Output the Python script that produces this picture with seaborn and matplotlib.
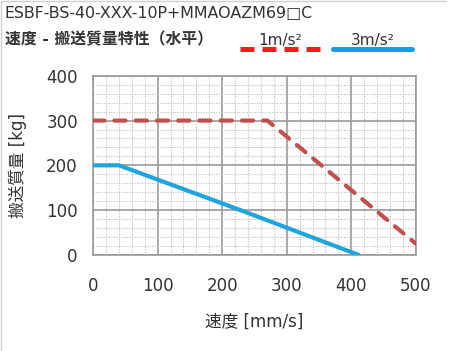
import numpy as np
import pandas as pd
import matplotlib
matplotlib.use("Agg")
import matplotlib.pyplot as plt
from matplotlib.lines import Line2D
from matplotlib.ticker import MultipleLocator
import seaborn as sns

# データ
speed_1g = [0, 270, 500]
mass_1g = [300, 300, 25]
speed_3g = [0, 40, 228, 411]
mass_3g = [200, 200, 100, 0]
labels = ["1m/s²", "3m/s²"]

ROJO = "#C0504D"
AZUL = "#1FA5DB"
ROJO_LEG = "#FF1A1A"
AZUL_LEG = "#0AA0EA"
GRIS = "#9A9A9A"
TXT = "#333333"

sns.set_style("white")
plt.rcParams["font.family"] = ["DejaVu Sans", "Noto Sans CJK JP"]

df1 = pd.DataFrame({"x": speed_1g, "y": mass_1g})
df3 = pd.DataFrame({"x": speed_3g, "y": mass_3g})

fig = plt.figure(figsize=(4.5, 3.51), dpi=100)
ax = fig.add_axes([0.207, 0.274, 0.717, 0.510])

sns.lineplot(data=df1, x="x", y="y", ax=ax, color=ROJO, lw=3.0, zorder=5)
ax.lines[-1].set_dashes([2.7, 2.4])
ax.lines[-1].set_dash_capstyle("round")
ax.lines[-1].set_solid_joinstyle("round")
sns.lineplot(data=df3, x="x", y="y", ax=ax, color=AZUL, lw=3.0, zorder=5)
ax.lines[-1].set_solid_capstyle("round")
ax.lines[-1].set_solid_joinstyle("round")

ax.set_xlim(0, 500)
ax.set_ylim(0, 400)
ax.xaxis.set_major_locator(MultipleLocator(100))
ax.yaxis.set_major_locator(MultipleLocator(100))
ax.xaxis.set_minor_locator(MultipleLocator(20))
ax.yaxis.set_minor_locator(MultipleLocator(20))
ax.grid(which="major", color=GRIS, lw=1.2)
ax.grid(which="minor", color="#BDBDBD", lw=0.8, ls=(0, (1, 1.3)))
ax.set_axisbelow(True)
for s in ax.spines.values():
    s.set_color(GRIS)
    s.set_linewidth(1.2)
ax.tick_params(which="major", length=5, width=1.2, color=GRIS,
               labelsize=12, labelcolor=TXT, pad=6)
ax.tick_params(which="minor", length=0)
ax.tick_params(axis="x", pad=11)

ax.set_xlabel("速度 [mm/s]", fontsize=12, color=TXT)
ax.set_ylabel("搬送質量 [kg]", fontsize=12, color=TXT)
ax.xaxis.set_label_coords(0.5, -0.325)
ax.yaxis.set_label_coords(-0.205, 0.5)

fig.text(0.011, 0.963, "ESBF-BS-40-XXX-10P+MMAOAZM69□C", fontsize=11.4,
         color=TXT, va="center", ha="left")
fig.text(0.011, 0.886, "速度 - 搬送質量特性（水平）", fontsize=11.4,
         fontweight="bold", color=TXT, va="center", ha="left")

# 凡例
fig.add_artist(Line2D([240 / 450, 320 / 450], [1 - 49 / 351] * 2, color=ROJO_LEG,
                      lw=3.6, dashes=[2.8, 1.6], transform=fig.transFigure))
fig.add_artist(Line2D([333 / 450, 412 / 450], [1 - 49 / 351] * 2, color=AZUL_LEG,
                      lw=3.6, transform=fig.transFigure))
fig.text(280 / 450, 1 - 40 / 351, labels[0], fontsize=11, color=TXT,
         ha="center", va="center")
fig.text(373 / 450, 1 - 40 / 351, labels[1], fontsize=11, color=TXT,
         ha="center", va="center")

fig.add_artist(Line2D([0.002, 0.002, 0.99], [0, 0.997, 0.997], color="#D0D0D0",
                      lw=1, transform=fig.transFigure))

fig.savefig("out.png", dpi=100)
